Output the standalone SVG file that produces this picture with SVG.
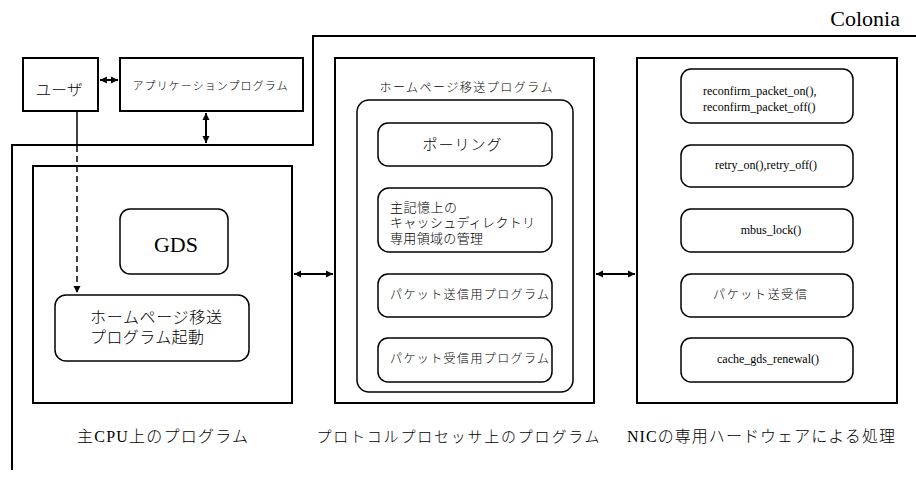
<svg xmlns="http://www.w3.org/2000/svg" width="916" height="477" viewBox="0 0 916 477">
<style>
.box{fill:#fff;stroke:#000;stroke-width:2}
.rbox{fill:#fff;stroke:#000;stroke-width:1.5}
.ln{fill:none;stroke:#000;stroke-width:2}
.t{font-family:"Liberation Serif","Noto Sans CJK JP",serif;fill:#000}
.j{font-family:"Liberation Serif","Noto Sans CJK JP",serif;fill:#000;font-weight:300}
.lat{font-family:"Liberation Serif",serif;font-weight:400}
</style>
<defs>
<marker id="ah" markerWidth="8" markerHeight="8" refX="7" refY="4" orient="auto-start-reverse" markerUnits="userSpaceOnUse">
<path d="M0,0.5 L7,4 L0,7.5 z" fill="#000"/>
</marker>
</defs>
<rect width="916" height="477" fill="#fff"/>
<g id="boundary">
<path class="ln" d="M12,470 V145 H313 V36 H916"/>
<text class="t" x="900" y="26" font-size="22" text-anchor="end">Colonia</text>
</g>
<g id="user">
<rect class="box" x="23" y="58" width="75" height="53"/>
<text class="j" x="59" y="95" font-size="15" text-anchor="middle" textLength="47" lengthAdjust="spacingAndGlyphs">ユーザ</text>
</g>
<g id="app">
<rect class="box" x="120" y="58" width="183" height="53"/>
<text class="j" x="210" y="90" font-size="11" text-anchor="middle" textLength="155" lengthAdjust="spacing">アプリケーションプログラム</text>
</g>
<g id="maincpu">
<rect class="box" x="33" y="166" width="259" height="237"/>
<text class="j" x="77" y="442" font-size="16" textLength="171" lengthAdjust="spacing">主<tspan class="lat">CPU</tspan>上のプログラム</text>
</g>
<g id="gds">
<rect class="rbox" x="120" y="209" width="108" height="65" rx="10"/>
<text class="t" x="176" y="252" font-size="22" text-anchor="middle">GDS</text>
</g>
<g id="hpstart">
<rect class="rbox" x="55" y="295" width="194" height="66" rx="11"/>
<text class="j" x="90" y="323" font-size="16" textLength="132" lengthAdjust="spacing">ホームページ移送</text>
<text class="j" x="90" y="343" font-size="16" textLength="114" lengthAdjust="spacing">プログラム起動</text>
</g>
<g id="protocol">
<rect class="box" x="335" y="58" width="259" height="345"/>
<text class="j" x="466" y="92" font-size="12" text-anchor="middle" textLength="173" lengthAdjust="spacing">ホームページ移送プログラム</text>
<text class="j" x="458" y="442" font-size="15" text-anchor="middle" textLength="283" lengthAdjust="spacing">プロトコルプロセッサ上のプログラム</text>
</g>
<g id="hpprogram">
<rect class="rbox" x="357" y="100" width="216" height="292" rx="12"/>
</g>
<g id="polling">
<rect class="rbox" x="378" y="123" width="174" height="43" rx="10"/>
<text class="j" x="462" y="150" font-size="15" text-anchor="middle" textLength="79" lengthAdjust="spacing">ポーリング</text>
</g>
<g id="cachedir">
<rect class="rbox" x="378" y="188" width="174" height="64" rx="11"/>
<text class="j" x="390" y="212" font-size="13" textLength="67" lengthAdjust="spacing">主記憶上の</text>
<text class="j" x="390" y="227" font-size="13" textLength="145" lengthAdjust="spacing">キャッシュディレクトリ</text>
<text class="j" x="390" y="243" font-size="13" textLength="93" lengthAdjust="spacing">専用領域の管理</text>
</g>
<g id="send">
<rect class="rbox" x="378" y="274" width="174" height="43" rx="10"/>
<text class="j" x="390" y="299" font-size="12" textLength="159" lengthAdjust="spacing">パケット送信用プログラム</text>
</g>
<g id="recv">
<rect class="rbox" x="378" y="338" width="174" height="44" rx="10"/>
<text class="j" x="390" y="363" font-size="12" textLength="159" lengthAdjust="spacing">パケット受信用プログラム</text>
</g>
<g id="nic">
<rect class="box" x="637" y="58" width="260" height="345"/>
<text class="j" x="627" y="442" font-size="16" textLength="268" lengthAdjust="spacing"><tspan class="lat">NIC</tspan>の専用ハードウェアによる処理</text>
</g>
<g id="reconfirm">
<rect class="rbox" x="681" y="69" width="172" height="54" rx="10"/>
<text class="t" x="703" y="95" font-size="12">reconfirm_packet_on(),</text>
<text class="t" x="703" y="111" font-size="12">reconfirm_packet_off()</text>
</g>
<g id="retry">
<rect class="rbox" x="681" y="145" width="172" height="42" rx="10"/>
<text class="t" x="766" y="169" font-size="12" text-anchor="middle">retry_on(),retry_off()</text>
</g>
<g id="mbus">
<rect class="rbox" x="681" y="209" width="172" height="43" rx="10"/>
<text class="t" x="771" y="234" font-size="12" text-anchor="middle">mbus_lock()</text>
</g>
<g id="pktsr">
<rect class="rbox" x="681" y="274" width="172" height="43" rx="10"/>
<text class="j" x="760" y="299" font-size="12" text-anchor="middle" textLength="94" lengthAdjust="spacing">パケット送受信</text>
</g>
<g id="cachegds">
<rect class="rbox" x="681" y="338" width="172" height="44" rx="10"/>
<text class="t" x="768" y="363" font-size="12" text-anchor="middle">cache_gds_renewal()</text>
</g>
<g id="connectors">
<line class="ln" x1="100" y1="80" x2="118" y2="80" marker-start="url(#ah)" marker-end="url(#ah)"/>
<line class="ln" x1="206" y1="113" x2="206" y2="143" marker-start="url(#ah)" marker-end="url(#ah)"/>
<line x1="77" y1="111" x2="77" y2="146" stroke="#000" stroke-width="1.5"/>
<line x1="77" y1="146" x2="77" y2="293" stroke="#000" stroke-width="1.5" stroke-dasharray="6,4" marker-end="url(#ah)"/>
<line class="ln" x1="294" y1="274" x2="333" y2="274" marker-start="url(#ah)" marker-end="url(#ah)"/>
<line class="ln" x1="596" y1="274" x2="635" y2="274" marker-start="url(#ah)" marker-end="url(#ah)"/>
</g>
</svg>
